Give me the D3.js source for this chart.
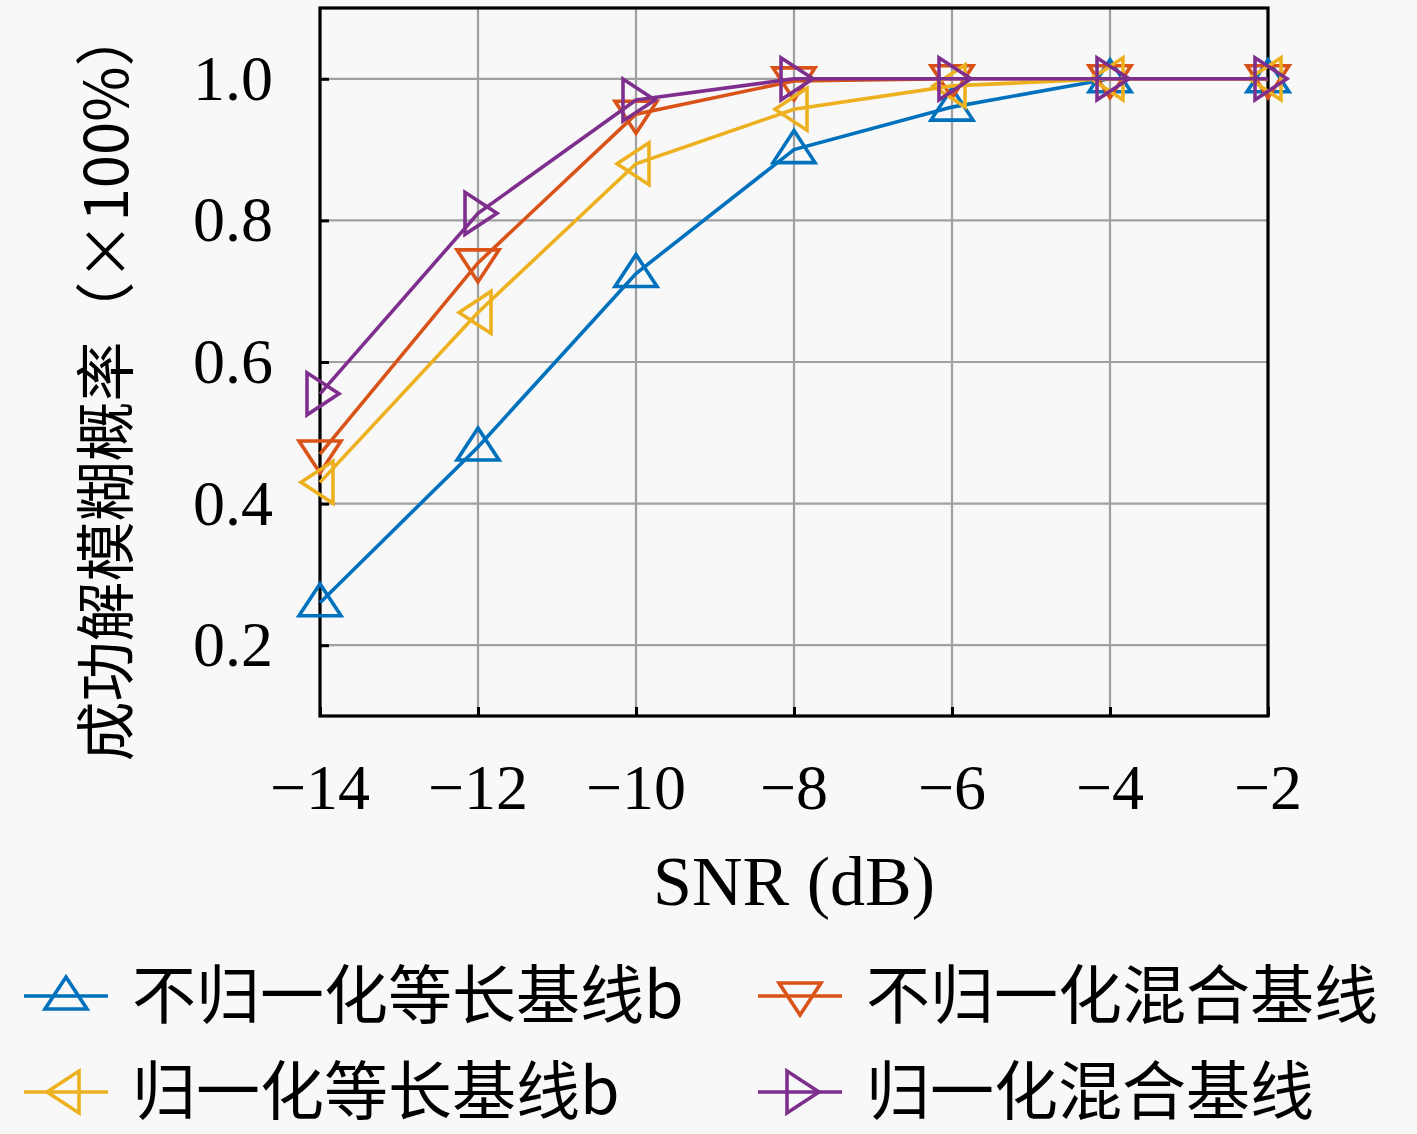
<!DOCTYPE html>
<html>
<head>
<meta charset="utf-8">
<script src="https://cdn.jsdelivr.net/npm/d3@7/dist/d3.min.js"></script>
<style>
  html, body { margin: 0; padding: 0; background: #f8f8f8; }
</style>
</head>
<body>
<div id="chart"></div>
<script>
var snr = [-14, -12, -10, -8, -6, -4, -2];
var xTicks = [-14, -12, -10, -8, -6, -4, -2];
var yTicks = [0.2, 0.4, 0.6, 0.8, 1.0];

var seriesNames = ['不归一化等长基线b', '不归一化混合基线', '归一化等长基线b', '归一化混合基线'];
var blueVals   = [0.26, 0.48, 0.725, 0.90, 0.96, 1.0, 1.0];
var redVals    = [0.47, 0.74, 0.95, 0.997, 1.0, 1.0, 1.0];
var yellowVals = [0.43, 0.67, 0.88, 0.957, 0.99, 1.0, 1.0];
var purpleVals = [0.555, 0.81, 0.97, 1.0, 1.0, 1.0, 1.0];

var colors = ['#0072BD', '#D95319', '#EDB120', '#7E2F8E'];
var markers = ['up', 'down', 'left', 'right'];
var allVals = [blueVals, redVals, yellowVals, purpleVals];

var W = 1417, H = 1134;
var box = {left: 320, right: 1268, top: 8, bottom: 716};

var svg = d3.select('#chart').append('svg')
    .attr('width', W).attr('height', H);

svg.append('rect').attr('width', W).attr('height', H).attr('fill', '#f8f8f8');

var x = d3.scaleLinear().domain([-14, -2]).range([box.left, box.right]);
var y = d3.scaleLinear().domain([0.1, 1.1]).range([box.bottom, box.top]);

var numFont = '"Liberation Serif", "DejaVu Serif", serif';
var cjkFont = '"Noto Sans CJK SC", sans-serif';

// grid
svg.append('g').selectAll('line.vg')
    .data(xTicks).enter().append('line')
    .attr('x1', function (d) { return x(d); }).attr('x2', function (d) { return x(d); })
    .attr('y1', box.top).attr('y2', box.bottom)
    .attr('stroke', '#a0a0a0').attr('stroke-width', 2.2);
svg.append('g').selectAll('line.hg')
    .data(yTicks).enter().append('line')
    .attr('y1', function (d) { return y(d); }).attr('y2', function (d) { return y(d); })
    .attr('x1', box.left).attr('x2', box.right)
    .attr('stroke', '#a0a0a0').attr('stroke-width', 2.2);

// axes with inward ticks
var xAxis = d3.axisBottom(x).tickValues(xTicks).tickSize(-9).tickFormat('');
var yAxis = d3.axisLeft(y).tickValues(yTicks).tickSize(-9).tickFormat('');
svg.append('g').attr('transform', 'translate(0,' + box.bottom + ')').call(xAxis)
    .call(function (g) { g.select('.domain').remove(); })
    .selectAll('line').attr('stroke', '#000').attr('stroke-width', 3);
svg.append('g').attr('transform', 'translate(' + box.left + ',0)').call(yAxis)
    .call(function (g) { g.select('.domain').remove(); })
    .selectAll('line').attr('stroke', '#000').attr('stroke-width', 3);

svg.append('rect')
    .attr('x', box.left).attr('y', box.top)
    .attr('width', box.right - box.left).attr('height', box.bottom - box.top)
    .attr('fill', 'none').attr('stroke', '#000').attr('stroke-width', 3.2);

// tick labels
svg.append('g').selectAll('text')
    .data(xTicks).enter().append('text')
    .attr('x', function (d) { return x(d); })
    .attr('y', 809)
    .attr('text-anchor', 'middle')
    .attr('font-family', numFont).attr('font-size', 64)
    .text(function (d) { return '\u2212' + Math.abs(d); });
svg.append('g').selectAll('text')
    .data(yTicks).enter().append('text')
    .attr('x', 273)
    .attr('y', function (d) { return y(d) + 21; })
    .attr('text-anchor', 'end')
    .attr('font-family', numFont).attr('font-size', 64)
    .text(function (d) { return d.toFixed(1); });

// axis labels
svg.append('text')
    .attr('x', 794).attr('y', 905)
    .attr('text-anchor', 'middle')
    .attr('font-family', numFont).attr('font-size', 70)
    .text('SNR (dB)');
svg.append('text')
    .attr('transform', 'translate(128,384) rotate(-90)')
    .attr('text-anchor', 'middle')
    .attr('font-family', cjkFont).attr('font-size', 60)
    .text('成功解模糊概率（×100%）');

function markerPath(kind) {
    var a = 21, b = 19, c = 13;
    if (kind === 'up') return 'M0,' + (-b) + 'L' + a + ',' + c + 'L' + (-a) + ',' + c + 'Z';
    if (kind === 'down') return 'M0,' + b + 'L' + a + ',' + (-c) + 'L' + (-a) + ',' + (-c) + 'Z';
    if (kind === 'left') return 'M' + (-b) + ',0L' + c + ',' + (-a) + 'L' + c + ',' + a + 'Z';
    return 'M' + b + ',0L' + (-c) + ',' + (-a) + 'L' + (-c) + ',' + a + 'Z';
}

var line = d3.line()
    .x(function (d) { return x(d[0]); })
    .y(function (d) { return y(d[1]); });

allVals.forEach(function (vals, i) {
    var pts = snr.map(function (s, j) { return [s, vals[j]]; });
    var g = svg.append('g');
    g.append('path')
        .attr('d', line(pts))
        .attr('fill', 'none')
        .attr('stroke', colors[i]).attr('stroke-width', 3.6);
    g.selectAll('path.mk')
        .data(pts).enter().append('path')
        .attr('class', 'mk')
        .attr('transform', function (d) { return 'translate(' + x(d[0]) + ',' + y(d[1]) + ')'; })
        .attr('d', markerPath(markers[i]))
        .attr('fill', 'none')
        .attr('stroke', colors[i]).attr('stroke-width', 3.6);
});

// legend
var legendPos = [
    {x: 24, y: 996}, {x: 758, y: 996},
    {x: 24, y: 1092}, {x: 758, y: 1092}
];
seriesNames.forEach(function (name, i) {
    var p = legendPos[i];
    var g = svg.append('g').attr('transform', 'translate(' + p.x + ',' + p.y + ')');
    g.append('line').attr('x1', 0).attr('x2', 84).attr('y1', 0).attr('y2', 0)
        .attr('stroke', colors[i]).attr('stroke-width', 3.6);
    g.append('path').attr('transform', 'translate(42,0)')
        .attr('d', markerPath(markers[i]))
        .attr('fill', 'none').attr('stroke', colors[i]).attr('stroke-width', 3.6);
    g.append('text')
        .attr('x', 108).attr('y', 22)
        .attr('font-family', cjkFont).attr('font-size', 64)
        .text(name);
});
</script>
</body>
</html>
